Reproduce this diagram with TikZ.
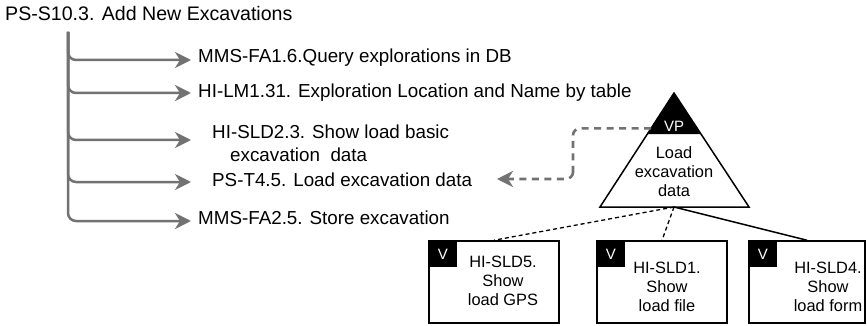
\documentclass[tikz,border=0pt]{standalone}
\usepackage{fontspec}
\setmainfont{Liberation Sans}
\usetikzlibrary{arrows.meta,calc}

\definecolor{linkgray}{HTML}{727272}

\tikzset{
  feature/.style={anchor=west,inner sep=0pt,font=\fontsize{18.8}{23}\selectfont},
  branch/.style={draw=linkgray,line width=2.5pt,rounded corners=8pt,-{Stealth[length=16pt,width=16pt,inset=5pt]}},
  vplink/.style={draw=linkgray,line width=2.6pt,dash pattern=on 7pt off 5.5pt,rounded corners=7pt,-{Stealth[length=16pt,width=16pt,inset=5pt]}},
  variant/.style={shape=rectangle,draw=black,line width=1.5pt,minimum width=130pt,minimum height=82pt,inner sep=0pt},
  vtab/.style={shape=rectangle,fill=black,text=white,minimum width=29pt,minimum height=27pt,inner sep=0pt,anchor=north west,font=\fontsize{15}{18}\selectfont},
  smalltext/.style={align=center,inner sep=0pt,font=\fontsize{16.4}{19}\selectfont},
  optional/.style={draw=black,line width=1.3pt,dash pattern=on 4pt off 3pt},
}

\begin{document}
\begin{tikzpicture}[x=1pt,y=-1pt]
\useasboundingbox (0,0) rectangle (867,326);

\node[feature,font=\fontsize{19.6}{23}\selectfont] (title) at (5,13) {PS-S10.3. Add New Excavations};
\coordinate (trunk) at (68,32);

\node[feature] (fa16) at (198,58) {MMS-FA1.6.Query explorations in DB};
\node[feature] (lm131) at (198,93) {HI-LM1.31. Exploration Location and Name by table};
\node[feature,align=left] (sld23) at (212,143) {HI-SLD2.3. Show load basic\\\hspace*{18pt}excavation\ \ data};
\node[feature] (t45) at (212,180) {PS-T4.5. Load excavation data};
\node[feature] (fa25) at (198,218) {MMS-FA2.5. Store excavation};

\coordinate (tip1) at (191,60);
\coordinate (tip2) at (191,93);
\coordinate (tip3) at (191,140);
\coordinate (tip4) at (191,182);
\coordinate (tip5) at (191,221);

\foreach \t in {tip1,tip2,tip3,tip4,tip5}
  \draw[branch] (trunk) |- (\t);

% variation point
\coordinate (apex) at (674,93);
\coordinate (baseL) at (600,207);
\coordinate (baseR) at (749,207);
\coordinate (basemid) at (674,207);
\fill[black] (apex) -- ($(apex)!0.36!(baseL)$) -- ($(apex)!0.36!(baseR)$) -- cycle;
\draw[line width=1.5pt] (apex) -- (baseL) -- (baseR) -- cycle;
\node[smalltext,text=white,font=\fontsize{15}{18}\selectfont] (vp) at (674,126) {VP};
\node[smalltext] (loadtxt) at (674,172) {Load\\excavation\\data};

\coordinate (vpjoin) at ($(apex)!0.31!(baseL)$);
\coordinate (tipvp) at (497,179);
\draw[vplink] (vpjoin) -| ($(tipvp)+(76,0)$) |- (tipvp);

% variants
\node[variant] (box1) at (494,282) {};
\node[variant] (box2) at (662,282) {};
\node[variant,minimum width=116pt] (box3) at (807,282) {};
\node[vtab] (v1) at (box1.north west) {V};
\node[vtab] (v2) at (box2.north west) {V};
\node[vtab] (v3) at (box3.north west) {V};
\node[smalltext] (sld5) at (503,281) {HI-SLD5.\\Show\\load GPS};
\node[smalltext] (sld1) at (667,287) {HI-SLD1.\\Show\\load file};
\node[smalltext] (sld4) at (828,287) {HI-SLD4.\\Show\\load form};

\path[optional] (basemid) edge (box1.north);
\path[optional] (basemid) edge (box2.north);
\path[draw=black,line width=1.5pt] (basemid) edge (box3.north);
\end{tikzpicture}
\end{document}
